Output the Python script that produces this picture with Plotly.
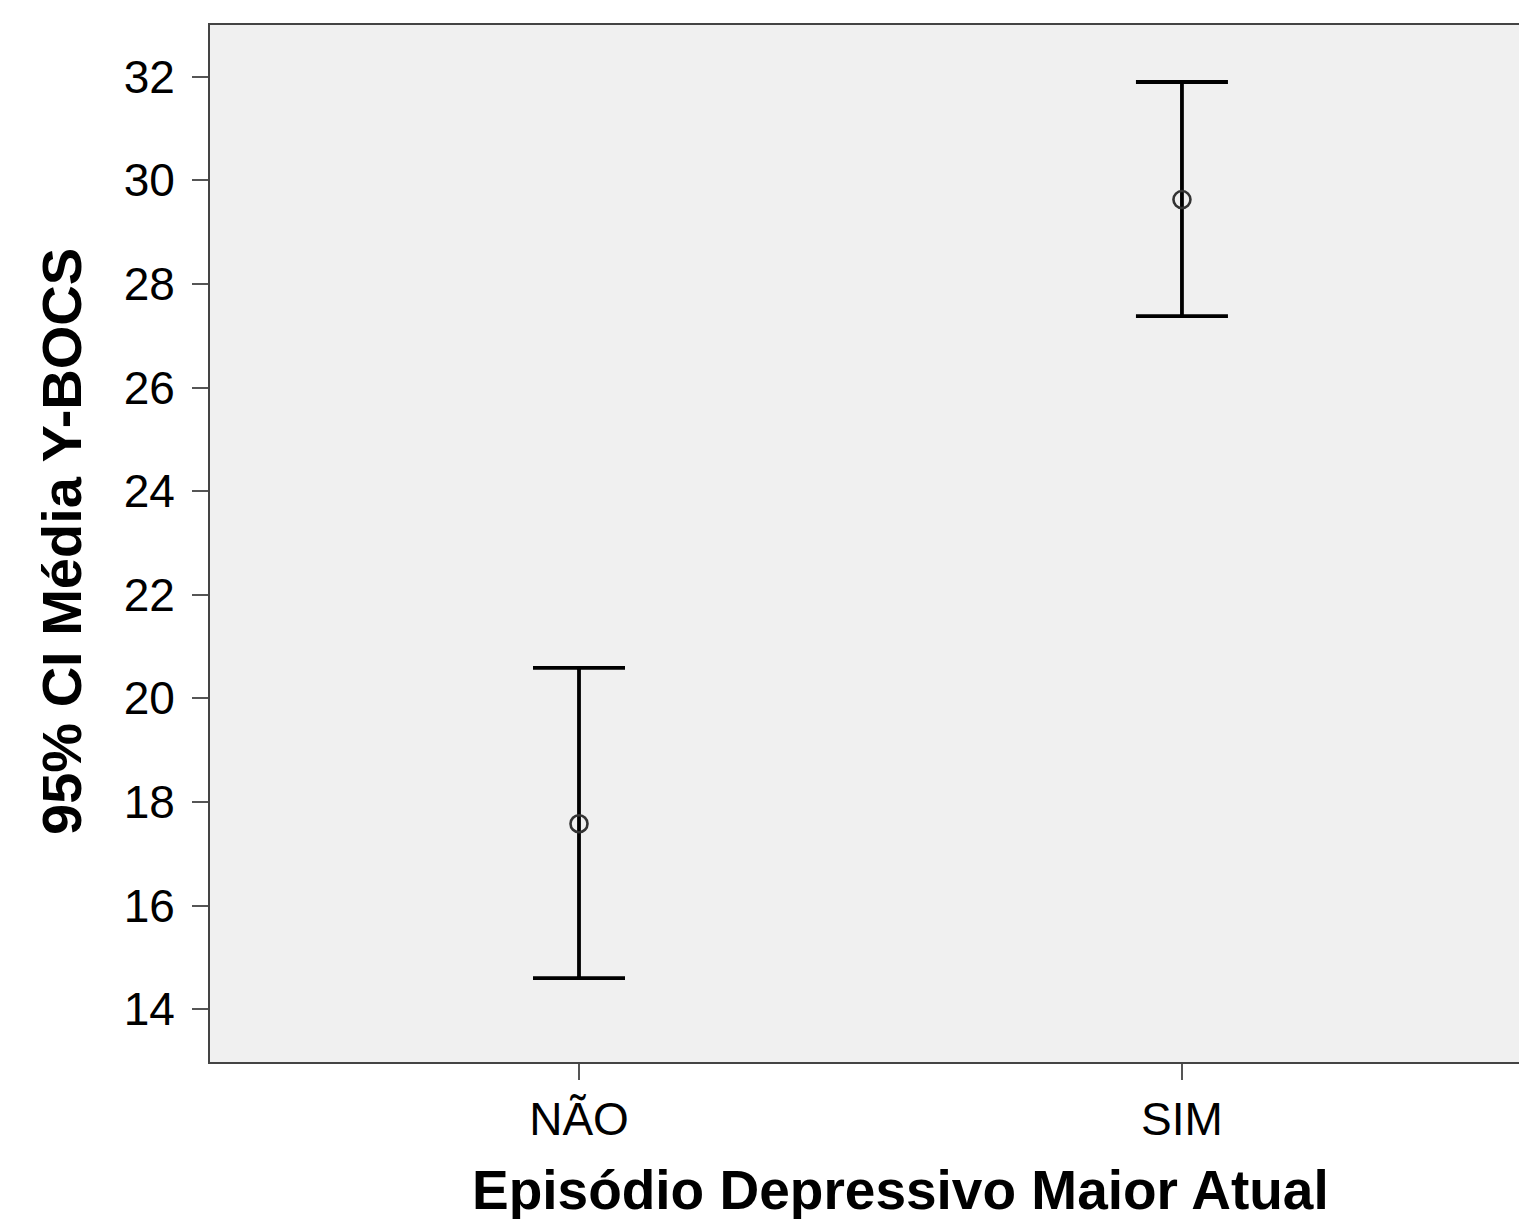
import plotly.graph_objects as go

categories = ["NÃO", "SIM"]
x_pos = [0, 1]
means = [17.58, 29.63]
upper = [20.59, 31.90]
lower = [14.60, 27.38]
y_ticks = [14, 16, 18, 20, 22, 24, 26, 28, 30, 32]

err_plus = [u - m for u, m in zip(upper, means)]
err_minus = [m - l for m, l in zip(means, lower)]

W, H = 1519, 1219
ml, mr, mt, mb = 210, 0, 25, 1219 - 1062
pw, ph = W - ml - mr, H - mt - mb

def px_x(x):  # page px -> paper x
    return (x - ml) / pw

def px_y(y):  # page px -> paper y
    return 1 - (y - mt) / ph

fig = go.Figure()
fig.add_trace(go.Scatter(
    x=x_pos, y=means, mode="markers",
    marker=dict(symbol="circle-open", size=17, color="#333333", line=dict(width=2.6, color="#333333")),
    error_y=dict(type="data", symmetric=False, array=err_plus, arrayminus=err_minus,
                 color="black", thickness=3.8, width=46),
    showlegend=False,
))

font = "Liberation Sans, Arial, sans-serif"
fig.update_layout(
    width=W, height=H,
    margin=dict(l=ml, r=mr, t=mt, b=mb),
    paper_bgcolor="white",
    plot_bgcolor="#f0f0f0",
    font=dict(family=font, size=46, color="black"),
    xaxis=dict(range=[-0.612, 1.559], tickvals=x_pos, ticktext=categories,
               showgrid=False, zeroline=False, showline=True, linecolor="#444444", linewidth=2,
               mirror=True, ticks="outside", ticklen=16, tickwidth=2, tickcolor="#555555",
               tickfont=dict(size=46, family=font)),
    yaxis=dict(range=[12.98, 33.0], tickvals=y_ticks,
               showgrid=False, zeroline=False, showline=True, linecolor="#444444", linewidth=2,
               mirror=False, ticks="outside", ticklen=16, tickwidth=2, tickcolor="#555555",
               ticklabelstandoff=8,
               tickfont=dict(size=46, family=font)),
    annotations=[
        dict(text="<b>Episódio Depressivo Maior Atual</b>", xref="paper", yref="paper",
             x=px_x(900), y=px_y(1190),
             xanchor="center", yanchor="middle", showarrow=False,
             font=dict(size=55, family=font, color="black")),
        dict(text="<b>95% CI Média Y-BOCS</b>", xref="paper", yref="paper",
             x=px_x(62), y=px_y(542), textangle=-90,
             xanchor="center", yanchor="middle", showarrow=False,
             font=dict(size=56, family=font, color="black")),
    ],
)

fig.write_html(
    "out.html",
    config={"displayModeBar": False},
    post_script="document.body.style.margin='0';document.body.style.overflow='hidden';",
)
